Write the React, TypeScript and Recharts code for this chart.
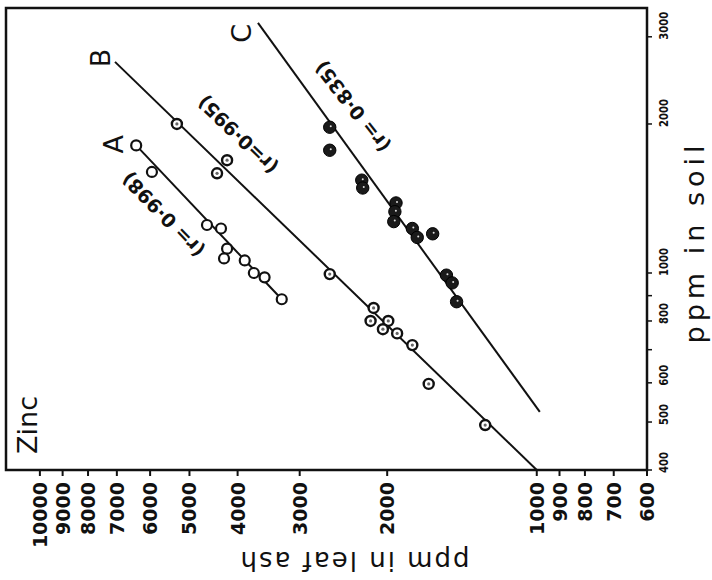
import {
  ScatterChart,
  Scatter,
  XAxis,
  YAxis,
  ReferenceArea,
  ReferenceDot,
} from "recharts";

// leaf ash (ppm) on the horizontal axis, soil (ppm) on the vertical one
const leafTicks = [600, 700, 800, 900, 1000, 2000, 3000, 4000, 5000, 6000, 7000, 8000, 9000, 10000];
const soilTicks = [400, 500, 600, 700, 800, 900, 1000, 2000, 3000];
const soilLabelled = [400, 500, 600, 800, 1000, 2000, 3000];

const pointsA = [
  { leaf: 6400, soil: 1810 },
  { leaf: 5950, soil: 1600 },
  { leaf: 4610, soil: 1250 },
  { leaf: 4320, soil: 1230 },
  { leaf: 4200, soil: 1120 },
  { leaf: 4260, soil: 1070 },
  { leaf: 3870, soil: 1060 },
  { leaf: 3710, soil: 1000 },
  { leaf: 3530, soil: 980 },
  { leaf: 3260, soil: 885 },
];
const pointsB = [
  { leaf: 5300, soil: 2000 },
  { leaf: 4200, soil: 1690 },
  { leaf: 4400, soil: 1590 },
  { leaf: 2610, soil: 995 },
  { leaf: 2130, soil: 850 },
  { leaf: 2160, soil: 800 },
  { leaf: 1990, soil: 800 },
  { leaf: 2040, soil: 770 },
  { leaf: 1910, soil: 755 },
  { leaf: 1780, soil: 715 },
  { leaf: 1650, soil: 597 },
  { leaf: 1270, soil: 493 },
];
const pointsC = [
  { leaf: 2610, soil: 1970 },
  { leaf: 2610, soil: 1770 },
  { leaf: 2250, soil: 1540 },
  { leaf: 2240, soil: 1485 },
  { leaf: 1920, soil: 1385 },
  { leaf: 1930, soil: 1330 },
  { leaf: 1940, soil: 1270 },
  { leaf: 1780, soil: 1230 },
  { leaf: 1740, soil: 1180 },
  { leaf: 1620, soil: 1200 },
  { leaf: 1520, soil: 990 },
  { leaf: 1480, soil: 955 },
  { leaf: 1450, soil: 875 },
];

// fitted lines, end points only
const lineA = [
  { leaf: 6400, soil: 1810 },
  { leaf: 3260, soil: 885 },
];
const lineB = [
  { leaf: 7060, soil: 2670 },
  { leaf: 1000, soil: 400 },
];
const lineC = [
  { leaf: 3640, soil: 3200 },
  { leaf: 986, soil: 524 },
];

const ink = "#111";
const font = "DejaVu Sans, Liberation Sans, sans-serif";

function LeafTick({ x, y, payload }: any) {
  return (
    <g transform={`translate(${x + 7},${y + 4}) rotate(-90)`}>
      <text x={0} y={0} textAnchor="end" fontSize={19} fontWeight="bold" fill={ink} fontFamily={font}>
        {payload.value}
      </text>
    </g>
  );
}

function SoilTick({ x, y, payload }: any) {
  if (!soilLabelled.includes(payload.value)) return <g />;
  const label = String(payload.value);
  return (
    <g transform={`translate(${x + 14},${y + 3}) rotate(-90)`}>
      <text
        x={0}
        y={0}
        textAnchor="start"
        fontSize={13}
        fontWeight="bold"
        fill={ink}
        fontFamily={font}
        textLength={label.length * 7}
        lengthAdjust="spacingAndGlyphs"
      >
        {label}
      </text>
    </g>
  );
}

function Tag({ viewBox, txt, rot, fs, fw }: any) {
  const cx = (viewBox?.x ?? 0) + (viewBox?.width ?? 0) / 2;
  const cy = (viewBox?.y ?? 0) + (viewBox?.height ?? 0) / 2;
  return (
    <text
      x={cx}
      y={cy}
      transform={`rotate(${rot} ${cx} ${cy})`}
      textAnchor="middle"
      dominantBaseline="central"
      fontSize={fs}
      fontWeight={fw ?? "normal"}
      fill={ink}
      fontFamily={font}
    >
      {txt}
    </text>
  );
}

const openDot = (p: any) => (
  <circle cx={p.cx} cy={p.cy} r={5} fill="#fff" stroke={ink} strokeWidth={2.2} />
);
const markedDot = (p: any) => (
  <g>
    <circle cx={p.cx} cy={p.cy} r={5} fill="#fff" stroke={ink} strokeWidth={2.4} />
    <circle cx={p.cx} cy={p.cy} r={1.6} fill="#666" />
  </g>
);
const solidDot = (p: any) => (
  <g>
    <circle cx={p.cx} cy={p.cy} r={6.2} fill="#1a1a1a" stroke="#000" strokeWidth={1} />
    <circle cx={p.cx + 1} cy={p.cy - 1} r={1} fill="#ddd" />
  </g>
);
const noDot = () => <g />;

export default function App() {
  return (
    <div style={{ position: "absolute", left: 0, top: 0, width: 712, height: 580, background: "#fff" }}>
      <ScatterChart width={712} height={580} margin={{ top: 8, right: 0, bottom: 0, left: 6 }}>
        <XAxis
          type="number"
          dataKey="leaf"
          scale="log"
          domain={[600, 11700]}
          allowDataOverflow
          reversed
          ticks={leafTicks}
          interval={0}
          height={110}
          tickSize={6}
          tick={<LeafTick />}
          axisLine={{ stroke: ink, strokeWidth: 2 }}
          tickLine={{ stroke: ink, strokeWidth: 2 }}
        />
        <YAxis
          type="number"
          dataKey="soil"
          orientation="right"
          scale="log"
          domain={[400, 3430]}
          allowDataOverflow
          ticks={soilTicks}
          interval={0}
          width={65}
          tickSize={5}
          tick={<SoilTick />}
          axisLine={{ stroke: ink, strokeWidth: 2 }}
          tickLine={{ stroke: ink, strokeWidth: 1.5 }}
        />
        <ReferenceArea
          x1={600}
          x2={11700}
          y1={400}
          y2={3430}
          fill="none"
          fillOpacity={0}
          stroke={ink}
          strokeWidth={2.5}
          ifOverflow="visible"
        />
        <Scatter data={lineA} line={{ stroke: ink, strokeWidth: 2 }} shape={noDot} isAnimationActive={false} />
        <Scatter data={lineB} line={{ stroke: ink, strokeWidth: 2 }} shape={noDot} isAnimationActive={false} />
        <Scatter data={lineC} line={{ stroke: ink, strokeWidth: 2 }} shape={noDot} isAnimationActive={false} />
        <Scatter data={pointsA} shape={openDot} isAnimationActive={false} />
        <Scatter data={pointsB} shape={markedDot} isAnimationActive={false} />
        <Scatter data={pointsC} shape={solidDot} isAnimationActive={false} />
        <ReferenceDot x={7100} y={1820} r={0} fill="none" stroke="none" ifOverflow="visible"
          label={<Tag txt="A" rot={-90} fs={27} />} />
        <ReferenceDot x={7540} y={2720} r={0} fill="none" stroke="none" ifOverflow="visible"
          label={<Tag txt="B" rot={-90} fs={27} />} />
        <ReferenceDot x={3920} y={3050} r={0} fill="none" stroke="none" ifOverflow="visible"
          label={<Tag txt="C" rot={-90} fs={27} />} />
        <ReferenceDot x={5650} y={1310} r={0} fill="none" stroke="none" ifOverflow="visible"
          label={<Tag txt="(r= 0·998)" rot={226} fs={19} fw="bold" />} />
        <ReferenceDot x={4000} y={1900} r={0} fill="none" stroke="none" ifOverflow="visible"
          label={<Tag txt="(r=0·995)" rot={224} fs={19} fw="bold" />} />
        <ReferenceDot x={2350} y={2165} r={0} fill="none" stroke="none" ifOverflow="visible"
          label={<Tag txt="(r= 0·835)" rot={232} fs={19} fw="bold" />} />
      </ScatterChart>
      <svg width={712} height={580} style={{ position: "absolute", left: 0, top: 0, pointerEvents: "none" }}>
        <text
          transform="translate(37,425) rotate(-90)"
          textAnchor="middle"
          fontSize={27}
          fill={ink}
          fontFamily={font}
        >
          Zinc
        </text>
        <text
          transform="translate(354,561) rotate(180)"
          textAnchor="middle"
          dominantBaseline="central"
          fontSize={26}
          letterSpacing={2}
          fill={ink}
          fontFamily={font}
        >
          ppm in leaf ash
        </text>
        <text
          transform="translate(704,242) rotate(-90)"
          textAnchor="middle"
          fontSize={27}
          letterSpacing={5}
          fill={ink}
          fontFamily={font}
        >
          ppm in soil
        </text>
      </svg>
    </div>
  );
}
